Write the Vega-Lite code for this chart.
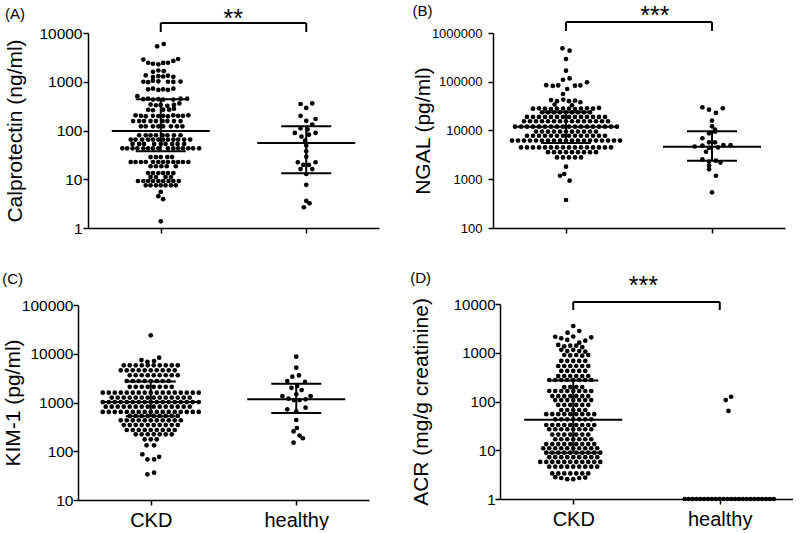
{
"$schema": "https://vega.github.io/schema/vega-lite/v6.json",
"background": "white",
"padding": {"left": 2, "top": 4, "right": 0, "bottom": 0},
"config": {
  "view": {"stroke": null},
  "font": "Liberation Sans",
  "axis": {"domainColor": "black", "tickColor": "black", "labelColor": "black", "titleColor": "black", "domainWidth": 1.5, "tickWidth": 1.5, "grid": false, "labelFont": "Liberation Sans", "titleFont": "Liberation Sans", "titleFontWeight": "normal", "titleFontSize": 21},
  "title": {"font": "Liberation Sans", "fontWeight": "normal", "fontSize": 15, "color": "black", "anchor": "start", "frame": "bounds"}
},
"datasets": {
"S": [
 {"p": "A", "g": "CKD", "lo": 37.5, "md": 98, "hi": 437},
 {"p": "A", "g": "healthy", "lo": 13.2, "md": 55.4, "hi": 122},
 {"p": "B", "g": "CKD", "lo": 5540, "md": 12000, "hi": 23600},
 {"p": "B", "g": "healthy", "lo": 2410, "md": 4650, "hi": 9600},
 {"p": "C", "g": "CKD", "lo": 520, "md": 1020, "hi": 2700},
 {"p": "C", "g": "healthy", "lo": 610, "md": 1170, "hi": 2430},
 {"p": "D", "g": "CKD", "lo": 8.9, "md": 42, "hi": 270}
],
"K": [
 {"p": "A", "g": "CKD", "g2": "healthy", "top": 16000, "bot": 10500, "sv": 12970, "sc": 12.1, "star": "**"},
 {"p": "B", "g": "CKD", "g2": "healthy", "top": 1680000, "bot": 1100000, "sv": 1500000, "sc": 14.8, "star": "***"},
 {"p": "D", "g": "CKD", "g2": "healthy", "top": 11000, "bot": 7540, "sv": 16000, "sc": 11.7, "star": "***"}
],
"A": [
 {"g":"CKD","v":5340,"c":-0.6},{"g":"CKD","v":5950,"c":0.5},
 {"g":"CKD","v":2850,"c":-2.9},{"g":"CKD","v":2450,"c":-2.1},{"g":"CKD","v":2340,"c":-1.3},{"g":"CKD","v":2280,"c":-0.4},{"g":"CKD","v":2430,"c":0.4},{"g":"CKD","v":2450,"c":1.2},{"g":"CKD","v":2670,"c":2.1},{"g":"CKD","v":2930,"c":2.9},
 {"g":"CKD","v":1600,"c":-1.3},{"g":"CKD","v":1700,"c":-0.4},{"g":"CKD","v":1650,"c":0.5},
 {"g":"CKD","v":1350,"c":-2.5},{"g":"CKD","v":1250,"c":-1.3},{"g":"CKD","v":1300,"c":-0.4},{"g":"CKD","v":1280,"c":0.4},{"g":"CKD","v":1330,"c":1.2},{"g":"CKD","v":1260,"c":2.1},
 {"g":"CKD","v":1000,"c":-2.9},{"g":"CKD","v":980,"c":-2.1},{"g":"CKD","v":1050,"c":-1.3},{"g":"CKD","v":1020,"c":-0.4},{"g":"CKD","v":1000,"c":1.2},{"g":"CKD","v":990,"c":2.1},{"g":"CKD","v":1010,"c":3.3},
 {"g":"CKD","v":700,"c":-2.1},{"g":"CKD","v":720,"c":-1.3},{"g":"CKD","v":680,"c":-0.4},{"g":"CKD","v":700,"c":0.4},{"g":"CKD","v":680,"c":1.2},{"g":"CKD","v":720,"c":2.1},
 {"g":"CKD","v":505,"c":-3.9},{"g":"CKD","v":440,"c":-2.9},{"g":"CKD","v":450,"c":-2.1},{"g":"CKD","v":430,"c":-1.3},{"g":"CKD","v":440,"c":-0.4},{"g":"CKD","v":430,"c":0.4},{"g":"CKD","v":430,"c":2.1},{"g":"CKD","v":450,"c":3.3},{"g":"CKD","v":450,"c":4.4},
 {"g":"CKD","v":340,"c":-1.7},{"g":"CKD","v":330,"c":-0.8},{"g":"CKD","v":335,"c":0},{"g":"CKD","v":320,"c":1.1},{"g":"CKD","v":335,"c":2.2},{"g":"CKD","v":360,"c":3.1},
 {"g":"CKD","v":265,"c":-2.1},{"g":"CKD","v":260,"c":-1.3},{"g":"CKD","v":268,"c":0.4},{"g":"CKD","v":268,"c":1.4},{"g":"CKD","v":280,"c":2.2},
 {"g":"CKD","v":205,"c":-4.2},{"g":"CKD","v":200,"c":-3.3},{"g":"CKD","v":195,"c":-2.5},{"g":"CKD","v":200,"c":-1.3},{"g":"CKD","v":198,"c":-0.4},{"g":"CKD","v":200,"c":0.4},{"g":"CKD","v":195,"c":1.2},{"g":"CKD","v":205,"c":2.1},{"g":"CKD","v":200,"c":2.9},{"g":"CKD","v":200,"c":3.7},{"g":"CKD","v":205,"c":4.6},
 {"g":"CKD","v":156,"c":-4.6},{"g":"CKD","v":156,"c":-3.6},{"g":"CKD","v":156,"c":-2.8},{"g":"CKD","v":156,"c":-1.7},{"g":"CKD","v":156,"c":-0.8},{"g":"CKD","v":156,"c":0.3},{"g":"CKD","v":156,"c":1.1},{"g":"CKD","v":156,"c":2.2},{"g":"CKD","v":156,"c":3.3},
 {"g":"CKD","v":122,"c":-3.3},{"g":"CKD","v":122,"c":-2.5},{"g":"CKD","v":122,"c":-1.3},{"g":"CKD","v":122,"c":-0.4},{"g":"CKD","v":122,"c":0.4},{"g":"CKD","v":122,"c":1.7},{"g":"CKD","v":122,"c":2.7},{"g":"CKD","v":122,"c":3.6},
 {"g":"CKD","v":80,"c":-3.6},{"g":"CKD","v":80,"c":-2.5},{"g":"CKD","v":80,"c":-1.7},{"g":"CKD","v":80,"c":-0.8},{"g":"CKD","v":80,"c":0.3},{"g":"CKD","v":80,"c":1.1},{"g":"CKD","v":80,"c":2.2},{"g":"CKD","v":80,"c":3.3},
 {"g":"CKD","v":65,"c":-5},{"g":"CKD","v":65,"c":-4.2},{"g":"CKD","v":65,"c":-3.1},{"g":"CKD","v":65,"c":-2.1},{"g":"CKD","v":65,"c":-1.3},{"g":"CKD","v":65,"c":-0.4},{"g":"CKD","v":65,"c":0.4},{"g":"CKD","v":65,"c":1.2},{"g":"CKD","v":65,"c":2.1},{"g":"CKD","v":65,"c":2.9},{"g":"CKD","v":65,"c":3.9},{"g":"CKD","v":65,"c":4.9},
 {"g":"CKD","v":53,"c":-4.7},{"g":"CKD","v":53,"c":-3.6},{"g":"CKD","v":53,"c":-2.8},{"g":"CKD","v":53,"c":-1.1},{"g":"CKD","v":53,"c":0},{"g":"CKD","v":53,"c":0.8},{"g":"CKD","v":53,"c":1.9},{"g":"CKD","v":53,"c":2.8},{"g":"CKD","v":53,"c":3.9},
 {"g":"CKD","v":43,"c":-6.4},{"g":"CKD","v":43,"c":-5.6},{"g":"CKD","v":43,"c":-4.7},{"g":"CKD","v":43,"c":-3.9},{"g":"CKD","v":43,"c":-2.9},{"g":"CKD","v":43,"c":-2.1},{"g":"CKD","v":43,"c":-1.3},{"g":"CKD","v":43,"c":-0.4},{"g":"CKD","v":43,"c":1.2},{"g":"CKD","v":43,"c":2.1},{"g":"CKD","v":43,"c":2.9},{"g":"CKD","v":43,"c":3.7},{"g":"CKD","v":43,"c":4.6},{"g":"CKD","v":43,"c":5.4},{"g":"CKD","v":43,"c":6.4},
 {"g":"CKD","v":28.5,"c":-1.7},{"g":"CKD","v":28.5,"c":-0.8},{"g":"CKD","v":28.5,"c":0},{"g":"CKD","v":28.5,"c":1.1},{"g":"CKD","v":28.5,"c":1.9},
 {"g":"CKD","v":22.6,"c":-5},{"g":"CKD","v":22.6,"c":-4.2},{"g":"CKD","v":22.6,"c":-3.3},{"g":"CKD","v":22.6,"c":-2.5},{"g":"CKD","v":22.6,"c":-1.3},{"g":"CKD","v":22.6,"c":-0.4},{"g":"CKD","v":22.6,"c":0.4},{"g":"CKD","v":22.6,"c":1.2},{"g":"CKD","v":22.6,"c":2.1},{"g":"CKD","v":22.6,"c":2.9},{"g":"CKD","v":22.6,"c":3.7},{"g":"CKD","v":22.6,"c":4.6},
 {"g":"CKD","v":18.5,"c":-1.7},{"g":"CKD","v":18.5,"c":-0.8},{"g":"CKD","v":18.5,"c":0.1},{"g":"CKD","v":18.5,"c":1.0},{"g":"CKD","v":18.5,"c":2.5},
 {"g":"CKD","v":13.4,"c":-2.1},{"g":"CKD","v":13.4,"c":-1.3},{"g":"CKD","v":13.4,"c":-0.4},{"g":"CKD","v":13.4,"c":0.4},{"g":"CKD","v":13.4,"c":1.2},{"g":"CKD","v":13.4,"c":2.1},
 {"g":"CKD","v":11.1,"c":-1.7},{"g":"CKD","v":11.1,"c":-0.8},{"g":"CKD","v":11.1,"c":0.8},{"g":"CKD","v":11.1,"c":1.7},
 {"g":"CKD","v":9.2,"c":-3.8},{"g":"CKD","v":9.2,"c":-2.9},{"g":"CKD","v":9.2,"c":-2.1},{"g":"CKD","v":9.2,"c":-1.3},{"g":"CKD","v":9.2,"c":-0.4},{"g":"CKD","v":9.2,"c":0.4},{"g":"CKD","v":9.2,"c":1.3},{"g":"CKD","v":9.2,"c":2.1},{"g":"CKD","v":9.2,"c":3.0},
 {"g":"CKD","v":7.5,"c":-2.5},{"g":"CKD","v":7.5,"c":-1.7},{"g":"CKD","v":7.5,"c":-0.8},{"g":"CKD","v":7.5,"c":0},{"g":"CKD","v":7.5,"c":0.8},{"g":"CKD","v":7.5,"c":1.7},{"g":"CKD","v":7.5,"c":2.5},
 {"g":"CKD","v":5.5,"c":0},{"g":"CKD","v":4.5,"c":-0.4},{"g":"CKD","v":3.9,"c":0.4},{"g":"CKD","v":1.37,"c":0},
 {"g":"healthy","v":350,"c":-0.95},{"g":"healthy","v":360,"c":1.0},{"g":"healthy","v":290,"c":0},{"g":"healthy","v":200,"c":-0.95},{"g":"healthy","v":158,"c":0},{"g":"healthy","v":172,"c":1.55},{"g":"healthy","v":132,"c":1.0},{"g":"healthy","v":111,"c":-0.95},{"g":"healthy","v":105,"c":0.2},{"g":"healthy","v":89,"c":-1.9},{"g":"healthy","v":89,"c":1.55},{"g":"healthy","v":82,"c":0.45},{"g":"healthy","v":75,"c":-0.8},{"g":"healthy","v":62,"c":-0.2},{"g":"healthy","v":49,"c":0},{"g":"healthy","v":37.5,"c":0},{"g":"healthy","v":29,"c":0},{"g":"healthy","v":22.3,"c":-1.4},{"g":"healthy","v":22.3,"c":1.55},{"g":"healthy","v":19.7,"c":-0.5},{"g":"healthy","v":19.7,"c":0.45},{"g":"healthy","v":16.2,"c":-0.95},{"g":"healthy","v":16.2,"c":1.0},{"g":"healthy","v":12.8,"c":0},{"g":"healthy","v":7.7,"c":0},{"g":"healthy","v":3.6,"c":0},{"g":"healthy","v":3.2,"c":0.55},{"g":"healthy","v":2.66,"c":-0.4}
],
"B": [
 {"g":"CKD","v":485000,"c":-0.6},{"g":"CKD","v":434000,"c":0.6},{"g":"CKD","v":293000,"c":0},{"g":"CKD","v":169000,"c":0},{"g":"CKD","v":110000,"c":-0.5},{"g":"CKD","v":117000,"c":0.6},
 {"g":"CKD","v":85000,"c":-3.3},{"g":"CKD","v":82000,"c":-2.2},{"g":"CKD","v":84000,"c":-1.3},{"g":"CKD","v":83000,"c":1.5},{"g":"CKD","v":84000,"c":2.4},{"g":"CKD","v":97600,"c":3.5},
 {"g":"CKD","v":71000,"c":0.2},{"g":"CKD","v":56000,"c":-0.5},
 {"g":"CKD","v":42000,"c":-2.5},{"g":"CKD","v":40000,"c":-1.5},{"g":"CKD","v":43000,"c":-0.45},{"g":"CKD","v":40000,"c":0.5},{"g":"CKD","v":41000,"c":1.5},{"g":"CKD","v":38000,"c":2.4},
 {"g":"CKD","v":34000,"c":-1.9},{"g":"CKD","v":33000,"c":1.0},
 {"g":"CKD","v":28000,"c":-5.5},{"g":"CKD","v":28500,"c":-4.5},{"g":"CKD","v":28000,"c":-3.5},{"g":"CKD","v":27500,"c":-2.5},{"g":"CKD","v":28000,"c":-1.5},{"g":"CKD","v":28000,"c":-0.5},{"g":"CKD","v":28000,"c":0.5},{"g":"CKD","v":27500,"c":1.5},{"g":"CKD","v":28000,"c":2.5},{"g":"CKD","v":28500,"c":3.5},{"g":"CKD","v":28000,"c":4.5},{"g":"CKD","v":29000,"c":5.5},
 {"g":"CKD","v":23600,"c":-4},{"g":"CKD","v":23600,"c":-3},{"g":"CKD","v":23600,"c":-2},{"g":"CKD","v":23600,"c":-1},{"g":"CKD","v":23600,"c":0},{"g":"CKD","v":23600,"c":1},{"g":"CKD","v":23600,"c":2},{"g":"CKD","v":23600,"c":3},{"g":"CKD","v":23600,"c":4},
 {"g":"CKD","v":19000,"c":-6.5},{"g":"CKD","v":19000,"c":-5.5},{"g":"CKD","v":19000,"c":-4.5},{"g":"CKD","v":19000,"c":-3.5},{"g":"CKD","v":19000,"c":-2.5},{"g":"CKD","v":19000,"c":-1.5},{"g":"CKD","v":19000,"c":-0.5},{"g":"CKD","v":19000,"c":0.5},{"g":"CKD","v":19000,"c":1.5},{"g":"CKD","v":19000,"c":2.5},{"g":"CKD","v":19000,"c":3.5},{"g":"CKD","v":19000,"c":4.5},{"g":"CKD","v":19000,"c":5.5},{"g":"CKD","v":19000,"c":6.5},
 {"g":"CKD","v":15500,"c":-7},{"g":"CKD","v":15500,"c":-6},{"g":"CKD","v":15500,"c":-5},{"g":"CKD","v":15500,"c":-4},{"g":"CKD","v":15500,"c":-3},{"g":"CKD","v":15500,"c":-2},{"g":"CKD","v":15500,"c":-1},{"g":"CKD","v":15500,"c":0},{"g":"CKD","v":15500,"c":1},{"g":"CKD","v":15500,"c":2},{"g":"CKD","v":15500,"c":3},{"g":"CKD","v":15500,"c":4},{"g":"CKD","v":15500,"c":5},{"g":"CKD","v":15500,"c":6},{"g":"CKD","v":15500,"c":7},
 {"g":"CKD","v":12000,"c":-8.5},{"g":"CKD","v":12000,"c":-7.5},{"g":"CKD","v":12000,"c":-6.5},{"g":"CKD","v":12000,"c":-5.5},{"g":"CKD","v":12000,"c":-4.5},{"g":"CKD","v":12000,"c":-3.5},{"g":"CKD","v":12000,"c":-2.5},{"g":"CKD","v":12000,"c":-1.5},{"g":"CKD","v":12000,"c":-0.5},{"g":"CKD","v":12000,"c":0.5},{"g":"CKD","v":12000,"c":1.5},{"g":"CKD","v":12000,"c":2.5},{"g":"CKD","v":12000,"c":3.5},{"g":"CKD","v":12000,"c":4.5},{"g":"CKD","v":12000,"c":5.5},{"g":"CKD","v":12000,"c":6.5},{"g":"CKD","v":12000,"c":7.5},{"g":"CKD","v":12000,"c":8.5},
 {"g":"CKD","v":9500,"c":-5},{"g":"CKD","v":9500,"c":-4},{"g":"CKD","v":9500,"c":-3},{"g":"CKD","v":9500,"c":-2},{"g":"CKD","v":9500,"c":-1},{"g":"CKD","v":9500,"c":0},{"g":"CKD","v":9500,"c":1},{"g":"CKD","v":9500,"c":2},{"g":"CKD","v":9500,"c":3},{"g":"CKD","v":9500,"c":4},{"g":"CKD","v":9500,"c":5},
 {"g":"CKD","v":7800,"c":-6.5},{"g":"CKD","v":7800,"c":-5.5},{"g":"CKD","v":7800,"c":-4.5},{"g":"CKD","v":7800,"c":-3.5},{"g":"CKD","v":7800,"c":-2.5},{"g":"CKD","v":7800,"c":-1.5},{"g":"CKD","v":7800,"c":-0.5},{"g":"CKD","v":7800,"c":0.5},{"g":"CKD","v":7800,"c":1.5},{"g":"CKD","v":7800,"c":2.5},{"g":"CKD","v":7800,"c":3.5},{"g":"CKD","v":7800,"c":4.5},{"g":"CKD","v":7800,"c":5.5},{"g":"CKD","v":7800,"c":6.5},
 {"g":"CKD","v":6200,"c":-9},{"g":"CKD","v":6200,"c":-8},{"g":"CKD","v":6200,"c":-7},{"g":"CKD","v":6200,"c":-6},{"g":"CKD","v":6200,"c":-5},{"g":"CKD","v":6200,"c":-4},{"g":"CKD","v":6200,"c":-3},{"g":"CKD","v":6200,"c":-2},{"g":"CKD","v":6200,"c":-1},{"g":"CKD","v":6200,"c":0},{"g":"CKD","v":6200,"c":1},{"g":"CKD","v":6200,"c":2},{"g":"CKD","v":6200,"c":3},{"g":"CKD","v":6200,"c":4},{"g":"CKD","v":6200,"c":5},{"g":"CKD","v":6200,"c":6},{"g":"CKD","v":6200,"c":7},{"g":"CKD","v":6200,"c":8},{"g":"CKD","v":6200,"c":9},
 {"g":"CKD","v":4500,"c":-7.5},{"g":"CKD","v":4500,"c":-6.5},{"g":"CKD","v":4500,"c":-5.5},{"g":"CKD","v":4500,"c":-4.5},{"g":"CKD","v":4500,"c":-3.5},{"g":"CKD","v":4500,"c":-2.5},{"g":"CKD","v":4500,"c":-1.5},{"g":"CKD","v":4500,"c":-0.5},{"g":"CKD","v":4500,"c":0.5},{"g":"CKD","v":4500,"c":1.5},{"g":"CKD","v":4500,"c":2.5},{"g":"CKD","v":4500,"c":3.5},{"g":"CKD","v":4500,"c":4.5},{"g":"CKD","v":4500,"c":5.5},{"g":"CKD","v":4500,"c":6.5},{"g":"CKD","v":4500,"c":7.5},
 {"g":"CKD","v":3600,"c":-3},{"g":"CKD","v":3600,"c":-2},{"g":"CKD","v":3600,"c":-1},{"g":"CKD","v":3600,"c":0},{"g":"CKD","v":3600,"c":1},{"g":"CKD","v":3600,"c":2},{"g":"CKD","v":3600,"c":3},{"g":"CKD","v":3600,"c":4},{"g":"CKD","v":3600,"c":5},
 {"g":"CKD","v":2800,"c":-1.5},{"g":"CKD","v":2800,"c":-0.5},{"g":"CKD","v":2800,"c":0.5},{"g":"CKD","v":2800,"c":1.5},{"g":"CKD","v":2800,"c":2.5},
 {"g":"CKD","v":1810,"c":0},{"g":"CKD","v":1280,"c":-0.3},{"g":"CKD","v":1180,"c":-1.0},{"g":"CKD","v":935,"c":0.6},{"g":"CKD","v":375,"c":0},
 {"g":"healthy","v":29900,"c":-1.6},{"g":"healthy","v":26700,"c":-0.5},{"g":"healthy","v":22900,"c":0.65},{"g":"healthy","v":28500,"c":1.8},{"g":"healthy","v":15900,"c":0},{"g":"healthy","v":12200,"c":0},{"g":"healthy","v":10400,"c":0.5},{"g":"healthy","v":8740,"c":-0.5},{"g":"healthy","v":9440,"c":0.5},{"g":"healthy","v":6930,"c":-1.6},{"g":"healthy","v":5730,"c":-0.5},{"g":"healthy","v":5730,"c":0.5},
 {"g":"healthy","v":4700,"c":-2.9},{"g":"healthy","v":4900,"c":-1.6},{"g":"healthy","v":4400,"c":-0.5},{"g":"healthy","v":4500,"c":1.0},{"g":"healthy","v":5000,"c":1.9},{"g":"healthy","v":5000,"c":3.1},
 {"g":"healthy","v":3670,"c":-1.0},{"g":"healthy","v":2550,"c":-1.6},{"g":"healthy","v":2300,"c":-0.5},{"g":"healthy","v":2400,"c":0.65},{"g":"healthy","v":2200,"c":1.4},{"g":"healthy","v":1900,"c":-0.5},{"g":"healthy","v":1600,"c":-0.5},{"g":"healthy","v":1180,"c":0.65},{"g":"healthy","v":540,"c":0}
],
"C": [
 {"g":"CKD","v":23900,"c":0},
 {"g":"CKD","v":7400,"c":-1.55},{"g":"CKD","v":6800,"c":-0.55},{"g":"CKD","v":7100,"c":0.55},{"g":"CKD","v":8300,"c":1.4},
 {"g":"CKD","v":5800,"c":-4.5},{"g":"CKD","v":5800,"c":-3.5},{"g":"CKD","v":5800,"c":-2.5},{"g":"CKD","v":5800,"c":-1.5},{"g":"CKD","v":5800,"c":-0.5},{"g":"CKD","v":5800,"c":0.5},{"g":"CKD","v":5800,"c":1.5},{"g":"CKD","v":5800,"c":2.5},{"g":"CKD","v":5800,"c":3.5},{"g":"CKD","v":5800,"c":4.5},
 {"g":"CKD","v":4580,"c":-5},{"g":"CKD","v":4580,"c":-4},{"g":"CKD","v":4580,"c":-3},{"g":"CKD","v":4580,"c":-2},{"g":"CKD","v":4580,"c":-1},{"g":"CKD","v":4580,"c":0},{"g":"CKD","v":4580,"c":1},{"g":"CKD","v":4580,"c":2},{"g":"CKD","v":4580,"c":3},{"g":"CKD","v":4580,"c":4},
 {"g":"CKD","v":3620,"c":-3.5},{"g":"CKD","v":3620,"c":-2.5},{"g":"CKD","v":3620,"c":-1.5},{"g":"CKD","v":3620,"c":-0.5},{"g":"CKD","v":3620,"c":0.5},{"g":"CKD","v":3620,"c":1.5},{"g":"CKD","v":3620,"c":2.5},{"g":"CKD","v":3620,"c":3.5},{"g":"CKD","v":3620,"c":4.5},
 {"g":"CKD","v":2760,"c":-4},{"g":"CKD","v":2760,"c":-3},{"g":"CKD","v":2760,"c":-2},{"g":"CKD","v":2760,"c":-1},{"g":"CKD","v":2760,"c":0},{"g":"CKD","v":2760,"c":1},{"g":"CKD","v":2760,"c":2},{"g":"CKD","v":2760,"c":3},
 {"g":"CKD","v":2100,"c":-3.5},{"g":"CKD","v":2100,"c":-2.5},{"g":"CKD","v":2100,"c":-1.5},{"g":"CKD","v":2100,"c":-0.5},{"g":"CKD","v":2100,"c":0.5},{"g":"CKD","v":2100,"c":1.5},{"g":"CKD","v":2100,"c":2.5},{"g":"CKD","v":2100,"c":3.5},
 {"g":"CKD","v":1590,"c":-8},{"g":"CKD","v":1590,"c":-7},{"g":"CKD","v":1590,"c":-6},{"g":"CKD","v":1590,"c":-5},{"g":"CKD","v":1590,"c":-4},{"g":"CKD","v":1590,"c":-3},{"g":"CKD","v":1590,"c":-2},{"g":"CKD","v":1590,"c":-1},{"g":"CKD","v":1590,"c":0},{"g":"CKD","v":1590,"c":1},{"g":"CKD","v":1590,"c":2},{"g":"CKD","v":1590,"c":3},{"g":"CKD","v":1590,"c":4},{"g":"CKD","v":1590,"c":5},{"g":"CKD","v":1590,"c":6},{"g":"CKD","v":1590,"c":7},{"g":"CKD","v":1590,"c":8},
 {"g":"CKD","v":1260,"c":-6.5},{"g":"CKD","v":1260,"c":-5.5},{"g":"CKD","v":1260,"c":-4.5},{"g":"CKD","v":1260,"c":-3.5},{"g":"CKD","v":1260,"c":-2.5},{"g":"CKD","v":1260,"c":-1.5},{"g":"CKD","v":1260,"c":-0.5},{"g":"CKD","v":1260,"c":0.5},{"g":"CKD","v":1260,"c":1.5},{"g":"CKD","v":1260,"c":2.5},{"g":"CKD","v":1260,"c":3.5},{"g":"CKD","v":1260,"c":4.5},{"g":"CKD","v":1260,"c":5.5},{"g":"CKD","v":1260,"c":6.5},
 {"g":"CKD","v":1020,"c":-8},{"g":"CKD","v":1020,"c":-7},{"g":"CKD","v":1020,"c":-6},{"g":"CKD","v":1020,"c":-5},{"g":"CKD","v":1020,"c":-4},{"g":"CKD","v":1020,"c":-3},{"g":"CKD","v":1020,"c":-2},{"g":"CKD","v":1020,"c":-1},{"g":"CKD","v":1020,"c":0},{"g":"CKD","v":1020,"c":1},{"g":"CKD","v":1020,"c":2},{"g":"CKD","v":1020,"c":3},{"g":"CKD","v":1020,"c":4},{"g":"CKD","v":1020,"c":5},{"g":"CKD","v":1020,"c":6},{"g":"CKD","v":1020,"c":7},{"g":"CKD","v":1020,"c":8},
 {"g":"CKD","v":820,"c":-7.5},{"g":"CKD","v":820,"c":-6.5},{"g":"CKD","v":820,"c":-5.5},{"g":"CKD","v":820,"c":-4.5},{"g":"CKD","v":820,"c":-3.5},{"g":"CKD","v":820,"c":-2.5},{"g":"CKD","v":820,"c":-1.5},{"g":"CKD","v":820,"c":-0.5},{"g":"CKD","v":820,"c":0.5},{"g":"CKD","v":820,"c":1.5},{"g":"CKD","v":820,"c":2.5},{"g":"CKD","v":820,"c":3.5},{"g":"CKD","v":820,"c":4.5},{"g":"CKD","v":820,"c":5.5},{"g":"CKD","v":820,"c":6.5},
 {"g":"CKD","v":640,"c":-8},{"g":"CKD","v":640,"c":-7},{"g":"CKD","v":640,"c":-6},{"g":"CKD","v":640,"c":-5},{"g":"CKD","v":640,"c":-4},{"g":"CKD","v":640,"c":-3},{"g":"CKD","v":640,"c":-2},{"g":"CKD","v":640,"c":-1},{"g":"CKD","v":640,"c":0},{"g":"CKD","v":640,"c":1},{"g":"CKD","v":640,"c":2},{"g":"CKD","v":640,"c":3},{"g":"CKD","v":640,"c":4},{"g":"CKD","v":640,"c":5},{"g":"CKD","v":640,"c":6},{"g":"CKD","v":640,"c":7},{"g":"CKD","v":640,"c":8},
 {"g":"CKD","v":530,"c":-3.5},{"g":"CKD","v":530,"c":-2.5},{"g":"CKD","v":530,"c":-1.5},{"g":"CKD","v":530,"c":-0.5},{"g":"CKD","v":530,"c":0.5},{"g":"CKD","v":530,"c":1.5},{"g":"CKD","v":530,"c":2.5},{"g":"CKD","v":530,"c":3.5},{"g":"CKD","v":530,"c":4.5},
 {"g":"CKD","v":430,"c":-5},{"g":"CKD","v":430,"c":-4},{"g":"CKD","v":430,"c":-3},{"g":"CKD","v":430,"c":-2},{"g":"CKD","v":430,"c":-1},{"g":"CKD","v":430,"c":0},{"g":"CKD","v":430,"c":1},{"g":"CKD","v":430,"c":2},{"g":"CKD","v":430,"c":3},{"g":"CKD","v":430,"c":4},{"g":"CKD","v":430,"c":5},
 {"g":"CKD","v":345,"c":-4.5},{"g":"CKD","v":345,"c":-3.5},{"g":"CKD","v":345,"c":-2.5},{"g":"CKD","v":345,"c":-1.5},{"g":"CKD","v":345,"c":-0.5},{"g":"CKD","v":345,"c":0.5},{"g":"CKD","v":345,"c":1.5},{"g":"CKD","v":345,"c":2.5},{"g":"CKD","v":345,"c":3.5},{"g":"CKD","v":345,"c":4.5},
 {"g":"CKD","v":273,"c":-4},{"g":"CKD","v":273,"c":-3},{"g":"CKD","v":273,"c":-2},{"g":"CKD","v":273,"c":-1},{"g":"CKD","v":273,"c":0},{"g":"CKD","v":273,"c":1},{"g":"CKD","v":273,"c":2},{"g":"CKD","v":273,"c":3},{"g":"CKD","v":273,"c":4},
 {"g":"CKD","v":222,"c":-2.5},{"g":"CKD","v":222,"c":-1.5},{"g":"CKD","v":222,"c":-0.5},{"g":"CKD","v":222,"c":0.5},{"g":"CKD","v":222,"c":1.5},{"g":"CKD","v":222,"c":2.5},{"g":"CKD","v":222,"c":3.5},
 {"g":"CKD","v":176,"c":-1},{"g":"CKD","v":176,"c":0},{"g":"CKD","v":176,"c":1},
 {"g":"CKD","v":132,"c":-0.7},{"g":"CKD","v":132,"c":0.55},
 {"g":"CKD","v":86.5,"c":-1.4},{"g":"CKD","v":77,"c":1.4},{"g":"CKD","v":68,"c":-0.55},{"g":"CKD","v":68,"c":0.55},
 {"g":"CKD","v":33.6,"c":-0.55},{"g":"CKD","v":36.3,"c":0.55},
 {"g":"healthy","v":8700,"c":0},{"g":"healthy","v":5170,"c":0},{"g":"healthy","v":3380,"c":-0.65},{"g":"healthy","v":3590,"c":0.45},{"g":"healthy","v":2760,"c":-1.5},{"g":"healthy","v":2640,"c":1.45},{"g":"healthy","v":2000,"c":-0.8},{"g":"healthy","v":2180,"c":0.15},{"g":"healthy","v":1800,"c":0.9},
 {"g":"healthy","v":1350,"c":-2.3},{"g":"healthy","v":1470,"c":0},{"g":"healthy","v":1350,"c":2.4},{"g":"healthy","v":1200,"c":-1.3},{"g":"healthy","v":1120,"c":-0.4},{"g":"healthy","v":1120,"c":0.55},{"g":"healthy","v":1160,"c":1.55},
 {"g":"healthy","v":724,"c":-1.5},{"g":"healthy","v":650,"c":0},{"g":"healthy","v":782,"c":1.55},{"g":"healthy","v":437,"c":0},{"g":"healthy","v":300,"c":0.1},{"g":"healthy","v":255,"c":-0.45},{"g":"healthy","v":210,"c":0.55},{"g":"healthy","v":185,"c":1.1},{"g":"healthy","v":150,"c":-0.45}
],
"D": [
 {"g":"CKD","v":3540,"c":0},{"g":"CKD","v":2580,"c":-0.95},{"g":"CKD","v":2790,"c":1.0},
 {"g":"CKD","v":2130,"c":-3},{"g":"CKD","v":1980,"c":-2},{"g":"CKD","v":1830,"c":-1},{"g":"CKD","v":2150,"c":0},{"g":"CKD","v":1610,"c":1},{"g":"CKD","v":1770,"c":2},{"g":"CKD","v":2070,"c":3},
 {"g":"CKD","v":1450,"c":-2.5},{"g":"CKD","v":1350,"c":-1.5},{"g":"CKD","v":1400,"c":-0.5},{"g":"CKD","v":1400,"c":0.5},{"g":"CKD","v":1300,"c":1.5},
 {"g":"CKD","v":1150,"c":-2},{"g":"CKD","v":1080,"c":-1},{"g":"CKD","v":1150,"c":0},{"g":"CKD","v":1080,"c":1},{"g":"CKD","v":1050,"c":2},
 {"g":"CKD","v":900,"c":-1.5},{"g":"CKD","v":880,"c":-0.5},{"g":"CKD","v":900,"c":0.5},{"g":"CKD","v":870,"c":1.5},{"g":"CKD","v":900,"c":2.5},
 {"g":"CKD","v":680,"c":-2},{"g":"CKD","v":680,"c":-1},{"g":"CKD","v":680,"c":0},{"g":"CKD","v":680,"c":1},{"g":"CKD","v":680,"c":2},
 {"g":"CKD","v":535,"c":-2.5},{"g":"CKD","v":535,"c":-1.5},{"g":"CKD","v":535,"c":-0.5},{"g":"CKD","v":535,"c":0.5},{"g":"CKD","v":535,"c":1.5},{"g":"CKD","v":535,"c":2.5},
 {"g":"CKD","v":423,"c":-2},{"g":"CKD","v":423,"c":-1},{"g":"CKD","v":423,"c":0},{"g":"CKD","v":423,"c":1},{"g":"CKD","v":423,"c":2},
 {"g":"CKD","v":333,"c":-2.5},{"g":"CKD","v":333,"c":-1.5},{"g":"CKD","v":333,"c":-0.5},{"g":"CKD","v":333,"c":0.5},{"g":"CKD","v":333,"c":1.5},{"g":"CKD","v":333,"c":2.5},
 {"g":"CKD","v":276,"c":-4},{"g":"CKD","v":276,"c":-3},{"g":"CKD","v":276,"c":-2},{"g":"CKD","v":276,"c":-1},{"g":"CKD","v":276,"c":0},{"g":"CKD","v":276,"c":1},{"g":"CKD","v":276,"c":2},{"g":"CKD","v":276,"c":3},
 {"g":"CKD","v":198,"c":-1.5},{"g":"CKD","v":198,"c":-0.5},{"g":"CKD","v":198,"c":0.5},{"g":"CKD","v":198,"c":1.5},
 {"g":"CKD","v":164,"c":-4},{"g":"CKD","v":164,"c":-3},{"g":"CKD","v":164,"c":-2},{"g":"CKD","v":164,"c":-1},{"g":"CKD","v":164,"c":0},{"g":"CKD","v":164,"c":1},{"g":"CKD","v":164,"c":2},{"g":"CKD","v":164,"c":3},
 {"g":"CKD","v":129,"c":-3.5},{"g":"CKD","v":129,"c":-2.5},{"g":"CKD","v":129,"c":-1.5},{"g":"CKD","v":129,"c":-0.5},{"g":"CKD","v":129,"c":0.5},{"g":"CKD","v":129,"c":1.5},{"g":"CKD","v":129,"c":2.5},
 {"g":"CKD","v":107,"c":-3},{"g":"CKD","v":107,"c":-2},{"g":"CKD","v":107,"c":-1},{"g":"CKD","v":107,"c":0},{"g":"CKD","v":107,"c":1},{"g":"CKD","v":107,"c":2},{"g":"CKD","v":107,"c":3},
 {"g":"CKD","v":85,"c":-2.5},{"g":"CKD","v":85,"c":-1.5},{"g":"CKD","v":85,"c":-0.5},{"g":"CKD","v":85,"c":0.5},{"g":"CKD","v":85,"c":1.5},{"g":"CKD","v":85,"c":2.5},
 {"g":"CKD","v":67,"c":-2},{"g":"CKD","v":67,"c":-1},{"g":"CKD","v":67,"c":0},{"g":"CKD","v":67,"c":1},{"g":"CKD","v":67,"c":2},
 {"g":"CKD","v":55,"c":-4.5},{"g":"CKD","v":55,"c":-3.5},{"g":"CKD","v":55,"c":-2.5},{"g":"CKD","v":55,"c":-1.5},{"g":"CKD","v":55,"c":-0.5},{"g":"CKD","v":55,"c":0.5},{"g":"CKD","v":55,"c":1.5},{"g":"CKD","v":55,"c":2.5},{"g":"CKD","v":55,"c":3.5},
 {"g":"CKD","v":43,"c":-3},{"g":"CKD","v":43,"c":-2},{"g":"CKD","v":43,"c":-1},{"g":"CKD","v":43,"c":0},{"g":"CKD","v":43,"c":1},{"g":"CKD","v":43,"c":2},{"g":"CKD","v":43,"c":3},
 {"g":"CKD","v":33,"c":-4.5},{"g":"CKD","v":33,"c":-3.5},{"g":"CKD","v":33,"c":-2.5},{"g":"CKD","v":33,"c":-1.5},{"g":"CKD","v":33,"c":-0.5},{"g":"CKD","v":33,"c":0.5},{"g":"CKD","v":33,"c":1.5},{"g":"CKD","v":33,"c":2.5},{"g":"CKD","v":33,"c":3.5},
 {"g":"CKD","v":27,"c":-4},{"g":"CKD","v":27,"c":-3},{"g":"CKD","v":27,"c":-2},{"g":"CKD","v":27,"c":-1},{"g":"CKD","v":27,"c":0},{"g":"CKD","v":27,"c":1},{"g":"CKD","v":27,"c":2},{"g":"CKD","v":27,"c":3},
 {"g":"CKD","v":21,"c":-3.5},{"g":"CKD","v":21,"c":-2.5},{"g":"CKD","v":21,"c":-1.5},{"g":"CKD","v":21,"c":-0.5},{"g":"CKD","v":21,"c":0.5},{"g":"CKD","v":21,"c":1.5},{"g":"CKD","v":21,"c":2.5},
 {"g":"CKD","v":16.8,"c":-3},{"g":"CKD","v":16.8,"c":-2},{"g":"CKD","v":16.8,"c":-1},{"g":"CKD","v":16.8,"c":0},{"g":"CKD","v":16.8,"c":1},{"g":"CKD","v":16.8,"c":2},{"g":"CKD","v":16.8,"c":3},
 {"g":"CKD","v":13.4,"c":-4.5},{"g":"CKD","v":13.4,"c":-3.5},{"g":"CKD","v":13.4,"c":-2.5},{"g":"CKD","v":13.4,"c":-1.5},{"g":"CKD","v":13.4,"c":-0.5},{"g":"CKD","v":13.4,"c":0.5},{"g":"CKD","v":13.4,"c":1.5},{"g":"CKD","v":13.4,"c":2.5},{"g":"CKD","v":13.4,"c":3.5},
 {"g":"CKD","v":11,"c":-5},{"g":"CKD","v":11,"c":-4},{"g":"CKD","v":11,"c":-3},{"g":"CKD","v":11,"c":-2},{"g":"CKD","v":11,"c":-1},{"g":"CKD","v":11,"c":0},{"g":"CKD","v":11,"c":1},{"g":"CKD","v":11,"c":2},{"g":"CKD","v":11,"c":3},{"g":"CKD","v":11,"c":4},
 {"g":"CKD","v":8.9,"c":-4.5},{"g":"CKD","v":8.9,"c":-3.5},{"g":"CKD","v":8.9,"c":-2.5},{"g":"CKD","v":8.9,"c":-1.5},{"g":"CKD","v":8.9,"c":-0.5},{"g":"CKD","v":8.9,"c":0.5},{"g":"CKD","v":8.9,"c":1.5},{"g":"CKD","v":8.9,"c":2.5},{"g":"CKD","v":8.9,"c":3.5},{"g":"CKD","v":8.9,"c":4.5},
 {"g":"CKD","v":7.2,"c":-4},{"g":"CKD","v":7.2,"c":-3},{"g":"CKD","v":7.2,"c":-2},{"g":"CKD","v":7.2,"c":-1},{"g":"CKD","v":7.2,"c":0},{"g":"CKD","v":7.2,"c":1},{"g":"CKD","v":7.2,"c":2},{"g":"CKD","v":7.2,"c":3},{"g":"CKD","v":7.2,"c":4},
 {"g":"CKD","v":5.75,"c":-5.5},{"g":"CKD","v":5.75,"c":-4.5},{"g":"CKD","v":5.75,"c":-3.5},{"g":"CKD","v":5.75,"c":-2.5},{"g":"CKD","v":5.75,"c":-1.5},{"g":"CKD","v":5.75,"c":-0.5},{"g":"CKD","v":5.75,"c":0.5},{"g":"CKD","v":5.75,"c":1.5},{"g":"CKD","v":5.75,"c":2.5},{"g":"CKD","v":5.75,"c":3.5},{"g":"CKD","v":5.75,"c":4.5},
 {"g":"CKD","v":4.6,"c":-4},{"g":"CKD","v":4.6,"c":-3},{"g":"CKD","v":4.6,"c":-2},{"g":"CKD","v":4.6,"c":-1},{"g":"CKD","v":4.6,"c":0},{"g":"CKD","v":4.6,"c":1},{"g":"CKD","v":4.6,"c":2},{"g":"CKD","v":4.6,"c":3},{"g":"CKD","v":4.6,"c":4},
 {"g":"CKD","v":3.35,"c":-3.5},{"g":"CKD","v":3.35,"c":-2.5},{"g":"CKD","v":3.35,"c":-1.5},{"g":"CKD","v":3.35,"c":-0.5},{"g":"CKD","v":3.35,"c":0.5},{"g":"CKD","v":3.35,"c":1.5},{"g":"CKD","v":3.35,"c":2.5},
 {"g":"CKD","v":2.8,"c":-3},{"g":"CKD","v":2.7,"c":-2},{"g":"CKD","v":2.55,"c":-1},{"g":"CKD","v":2.55,"c":0},{"g":"CKD","v":2.7,"c":1},{"g":"CKD","v":2.75,"c":2},
 {"g":"healthy","v":107,"c":1.0},{"g":"healthy","v":125,"c":1.9},{"g":"healthy","v":64,"c":1.45},
 {"g":"healthy","v":1,"c":-5.83},{"g":"healthy","v":1,"c":-5.19},{"g":"healthy","v":1,"c":-4.54},{"g":"healthy","v":1,"c":-3.9},{"g":"healthy","v":1,"c":-3.25},{"g":"healthy","v":1,"c":-2.61},{"g":"healthy","v":1,"c":-1.96},{"g":"healthy","v":1,"c":-1.32},{"g":"healthy","v":1,"c":-0.67},{"g":"healthy","v":1,"c":-0.03},{"g":"healthy","v":1,"c":0.62},{"g":"healthy","v":1,"c":1.26},{"g":"healthy","v":1,"c":1.91},{"g":"healthy","v":1,"c":2.55},{"g":"healthy","v":1,"c":3.2},{"g":"healthy","v":1,"c":3.84},{"g":"healthy","v":1,"c":4.49},{"g":"healthy","v":1,"c":5.13},{"g":"healthy","v":1,"c":5.78},{"g":"healthy","v":1,"c":6.42},{"g":"healthy","v":1,"c":7.07},{"g":"healthy","v":1,"c":7.71},{"g":"healthy","v":1,"c":8.36},{"g":"healthy","v":1,"c":9.0}
]
},
"spacing": 31,
"hconcat": [
{"columns": 1, "align": "none", "spacing": 35, "concat": [
 {"width": 291, "height": 195, "title": {"text": "(A)", "offset": -15},
  "encoding": {"x": {"field": "g", "type": "nominal", "scale": {"type": "point", "domain": ["CKD", "healthy"], "padding": 0.5}, "axis": {"title": null, "labels": false, "tickSize": 5}}},
  "layer": [
   {"data": {"name": "A"}, "mark": {"type": "circle", "size": 22, "color": "black", "opacity": 1},
    "encoding": {"y": {"field": "v", "type": "quantitative", "title": "Calprotectin (ng/ml)", "scale": {"type": "log", "domain": [1, 10000], "nice": false}, "axis": {"values": [1, 10, 100, 1000, 10000], "format": "d", "labelFontSize": 15.5, "labelPadding": 1, "tickSize": 5, "titlePadding": 13}},
     "xOffset": {"field": "c", "type": "quantitative", "scale": {"domain": [-10, 10], "range": [-60, 60]}}}},
   {"data": {"name": "S"}, "transform": [{"filter": "datum.p === 'A'"}], "mark": {"type": "tick", "size": 98, "thickness": 2, "color": "black", "opacity": 1},
    "encoding": {"y": {"field": "md", "type": "quantitative", "title": "Calprotectin (ng/ml)", "scale": {"type": "log", "domain": [1, 10000], "nice": false}}}},
   {"data": {"name": "S"}, "transform": [{"filter": "datum.p === 'A'"}], "mark": {"type": "tick", "size": 50, "thickness": 2, "color": "black", "opacity": 1},
    "encoding": {"y": {"field": "lo", "type": "quantitative", "title": "Calprotectin (ng/ml)", "scale": {"type": "log", "domain": [1, 10000], "nice": false}}}},
   {"data": {"name": "S"}, "transform": [{"filter": "datum.p === 'A'"}], "mark": {"type": "tick", "size": 50, "thickness": 2, "color": "black", "opacity": 1},
    "encoding": {"y": {"field": "hi", "type": "quantitative", "title": "Calprotectin (ng/ml)", "scale": {"type": "log", "domain": [1, 10000], "nice": false}}}},
   {"data": {"name": "S"}, "transform": [{"filter": "datum.p === 'A'"}], "mark": {"type": "rule", "strokeWidth": 2, "color": "black"},
    "encoding": {"y": {"field": "lo", "type": "quantitative", "title": "Calprotectin (ng/ml)", "scale": {"type": "log", "domain": [1, 10000], "nice": false}}, "y2": {"field": "hi"}}},
   {"data": {"name": "K"}, "transform": [{"filter": "datum.p === 'A'"}], "mark": {"type": "rule", "strokeWidth": 2, "color": "black"},
    "encoding": {"x2": {"field": "g2"}, "y": {"field": "top", "type": "quantitative", "title": "Calprotectin (ng/ml)", "scale": {"type": "log", "domain": [1, 10000], "nice": false}}}},
   {"data": {"name": "K"}, "transform": [{"filter": "datum.p === 'A'"}], "mark": {"type": "rule", "strokeWidth": 2, "color": "black"},
    "encoding": {"y": {"field": "top", "type": "quantitative", "title": "Calprotectin (ng/ml)", "scale": {"type": "log", "domain": [1, 10000], "nice": false}}, "y2": {"field": "bot"}}},
   {"data": {"name": "K"}, "transform": [{"filter": "datum.p === 'A'"}], "mark": {"type": "rule", "strokeWidth": 2, "color": "black"},
    "encoding": {"x": {"field": "g2", "type": "nominal"}, "y": {"field": "top", "type": "quantitative", "title": "Calprotectin (ng/ml)", "scale": {"type": "log", "domain": [1, 10000], "nice": false}}, "y2": {"field": "bot"}}},
   {"data": {"name": "K"}, "transform": [{"filter": "datum.p === 'A'"}], "mark": {"type": "text", "fontSize": 25, "baseline": "alphabetic", "align": "center", "color": "black", "font": "Liberation Sans"},
    "encoding": {"y": {"field": "sv", "type": "quantitative", "title": "Calprotectin (ng/ml)", "scale": {"type": "log", "domain": [1, 10000], "nice": false}}, "xOffset": {"field": "sc", "type": "quantitative", "scale": {"domain": [-10, 10], "range": [-60, 60]}}, "text": {"field": "star"}}}
  ]},
 {"width": 281, "height": 195, "title": {"text": "(C)", "offset": 11},
  "encoding": {"x": {"field": "g", "type": "nominal", "scale": {"type": "point", "domain": ["CKD", "healthy"], "padding": 0.5, "range": [-10, 281]}, "axis": {"title": null, "labelAngle": 0, "labelFontSize": 20, "labelPadding": 5, "tickSize": 5}}},
  "layer": [
   {"data": {"name": "C"}, "mark": {"type": "circle", "size": 22, "color": "black", "opacity": 1},
    "encoding": {"y": {"field": "v", "type": "quantitative", "title": "KIM-1 (pg/ml)", "scale": {"type": "log", "domain": [10, 100000], "nice": false}, "axis": {"values": [10, 100, 1000, 10000, 100000], "format": "d", "offset": 10, "labelFontSize": 15.5, "labelPadding": 0, "tickSize": 5, "titlePadding": -2}},
     "xOffset": {"field": "c", "type": "quantitative", "scale": {"domain": [-10, 10], "range": [-60, 60]}}}},
   {"data": {"name": "S"}, "transform": [{"filter": "datum.p === 'C'"}], "mark": {"type": "tick", "size": 98, "thickness": 2, "color": "black", "opacity": 1},
    "encoding": {"y": {"field": "md", "type": "quantitative", "title": "KIM-1 (pg/ml)", "scale": {"type": "log", "domain": [10, 100000], "nice": false}}}},
   {"data": {"name": "S"}, "transform": [{"filter": "datum.p === 'C'"}], "mark": {"type": "tick", "size": 50, "thickness": 2, "color": "black", "opacity": 1},
    "encoding": {"y": {"field": "lo", "type": "quantitative", "title": "KIM-1 (pg/ml)", "scale": {"type": "log", "domain": [10, 100000], "nice": false}}}},
   {"data": {"name": "S"}, "transform": [{"filter": "datum.p === 'C'"}], "mark": {"type": "tick", "size": 50, "thickness": 2, "color": "black", "opacity": 1},
    "encoding": {"y": {"field": "hi", "type": "quantitative", "title": "KIM-1 (pg/ml)", "scale": {"type": "log", "domain": [10, 100000], "nice": false}}}},
   {"data": {"name": "S"}, "transform": [{"filter": "datum.p === 'C'"}], "mark": {"type": "rule", "strokeWidth": 2, "color": "black"},
    "encoding": {"y": {"field": "lo", "type": "quantitative", "title": "KIM-1 (pg/ml)", "scale": {"type": "log", "domain": [10, 100000], "nice": false}}, "y2": {"field": "hi"}}}
  ]}
]},
{"columns": 1, "align": "none", "spacing": 36, "concat": [
 {"width": 285, "height": 195, "title": {"text": "(B)", "offset": -15},
  "encoding": {"x": {"field": "g", "type": "nominal", "scale": {"type": "point", "domain": ["CKD", "healthy"], "padding": 0.5, "range": [-7, 285]}, "axis": {"title": null, "labels": false, "tickSize": 5}}},
  "layer": [
   {"data": {"name": "B"}, "mark": {"type": "circle", "size": 22, "color": "black", "opacity": 1},
    "encoding": {"y": {"field": "v", "type": "quantitative", "title": "NGAL (pg/ml)", "scale": {"type": "log", "domain": [100, 1000000], "nice": false}, "axis": {"values": [100, 1000, 10000, 100000, 1000000], "format": "d", "offset": 7, "labelFontSize": 13, "labelPadding": 6, "tickSize": 5, "titlePadding": -2}},
     "xOffset": {"field": "c", "type": "quantitative", "scale": {"domain": [-10, 10], "range": [-50, 50]}}}},
   {"data": {"name": "S"}, "transform": [{"filter": "datum.p === 'B'"}], "mark": {"type": "tick", "size": 98, "thickness": 2, "color": "black", "opacity": 1},
    "encoding": {"y": {"field": "md", "type": "quantitative", "title": "NGAL (pg/ml)", "scale": {"type": "log", "domain": [100, 1000000], "nice": false}}}},
   {"data": {"name": "S"}, "transform": [{"filter": "datum.p === 'B'"}], "mark": {"type": "tick", "size": 50, "thickness": 2, "color": "black", "opacity": 1},
    "encoding": {"y": {"field": "lo", "type": "quantitative", "title": "NGAL (pg/ml)", "scale": {"type": "log", "domain": [100, 1000000], "nice": false}}}},
   {"data": {"name": "S"}, "transform": [{"filter": "datum.p === 'B'"}], "mark": {"type": "tick", "size": 50, "thickness": 2, "color": "black", "opacity": 1},
    "encoding": {"y": {"field": "hi", "type": "quantitative", "title": "NGAL (pg/ml)", "scale": {"type": "log", "domain": [100, 1000000], "nice": false}}}},
   {"data": {"name": "S"}, "transform": [{"filter": "datum.p === 'B'"}], "mark": {"type": "rule", "strokeWidth": 2, "color": "black"},
    "encoding": {"y": {"field": "lo", "type": "quantitative", "title": "NGAL (pg/ml)", "scale": {"type": "log", "domain": [100, 1000000], "nice": false}}, "y2": {"field": "hi"}}},
   {"data": {"name": "K"}, "transform": [{"filter": "datum.p === 'B'"}], "mark": {"type": "rule", "strokeWidth": 2, "color": "black"},
    "encoding": {"x2": {"field": "g2"}, "y": {"field": "top", "type": "quantitative", "title": "NGAL (pg/ml)", "scale": {"type": "log", "domain": [100, 1000000], "nice": false}}}},
   {"data": {"name": "K"}, "transform": [{"filter": "datum.p === 'B'"}], "mark": {"type": "rule", "strokeWidth": 2, "color": "black"},
    "encoding": {"y": {"field": "top", "type": "quantitative", "title": "NGAL (pg/ml)", "scale": {"type": "log", "domain": [100, 1000000], "nice": false}}, "y2": {"field": "bot"}}},
   {"data": {"name": "K"}, "transform": [{"filter": "datum.p === 'B'"}], "mark": {"type": "rule", "strokeWidth": 2, "color": "black"},
    "encoding": {"x": {"field": "g2", "type": "nominal"}, "y": {"field": "top", "type": "quantitative", "title": "NGAL (pg/ml)", "scale": {"type": "log", "domain": [100, 1000000], "nice": false}}, "y2": {"field": "bot"}}},
   {"data": {"name": "K"}, "transform": [{"filter": "datum.p === 'B'"}], "mark": {"type": "text", "fontSize": 25, "baseline": "alphabetic", "align": "center", "color": "black", "font": "Liberation Sans"},
    "encoding": {"y": {"field": "sv", "type": "quantitative", "title": "NGAL (pg/ml)", "scale": {"type": "log", "domain": [100, 1000000], "nice": false}}, "xOffset": {"field": "sc", "type": "quantitative", "scale": {"domain": [-10, 10], "range": [-50, 50]}}, "text": {"field": "star"}}}
  ]},
 {"width": 293, "height": 195, "title": {"text": "(D)", "offset": -12},
  "encoding": {"x": {"field": "g", "type": "nominal", "scale": {"type": "point", "domain": ["CKD", "healthy"], "padding": 0.5}, "axis": {"title": null, "labelAngle": 0, "labelFontSize": 20, "labelPadding": 5, "tickSize": 5}}},
  "layer": [
   {"data": {"name": "D"}, "mark": {"type": "circle", "size": 22, "color": "black", "opacity": 1},
    "encoding": {"y": {"field": "v", "type": "quantitative", "title": "ACR (mg/g creatinine)", "scale": {"type": "log", "domain": [1, 10000], "nice": false}, "axis": {"values": [1, 10, 100, 1000, 10000], "format": "d", "labelFontSize": 15, "labelPadding": 0, "tickSize": 5, "titlePadding": 22}},
     "xOffset": {"field": "c", "type": "quantitative", "scale": {"domain": [-10, 10], "range": [-60, 60]}}}},
   {"data": {"name": "S"}, "transform": [{"filter": "datum.p === 'D'"}], "mark": {"type": "tick", "size": 98, "thickness": 2, "color": "black", "opacity": 1},
    "encoding": {"y": {"field": "md", "type": "quantitative", "title": "ACR (mg/g creatinine)", "scale": {"type": "log", "domain": [1, 10000], "nice": false}}}},
   {"data": {"name": "S"}, "transform": [{"filter": "datum.p === 'D'"}], "mark": {"type": "tick", "size": 50, "thickness": 2, "color": "black", "opacity": 1},
    "encoding": {"y": {"field": "lo", "type": "quantitative", "title": "ACR (mg/g creatinine)", "scale": {"type": "log", "domain": [1, 10000], "nice": false}}}},
   {"data": {"name": "S"}, "transform": [{"filter": "datum.p === 'D'"}], "mark": {"type": "tick", "size": 50, "thickness": 2, "color": "black", "opacity": 1},
    "encoding": {"y": {"field": "hi", "type": "quantitative", "title": "ACR (mg/g creatinine)", "scale": {"type": "log", "domain": [1, 10000], "nice": false}}}},
   {"data": {"name": "S"}, "transform": [{"filter": "datum.p === 'D'"}], "mark": {"type": "rule", "strokeWidth": 2, "color": "black"},
    "encoding": {"y": {"field": "lo", "type": "quantitative", "title": "ACR (mg/g creatinine)", "scale": {"type": "log", "domain": [1, 10000], "nice": false}}, "y2": {"field": "hi"}}},
   {"data": {"name": "K"}, "transform": [{"filter": "datum.p === 'D'"}], "mark": {"type": "rule", "strokeWidth": 2, "color": "black"},
    "encoding": {"x2": {"field": "g2"}, "y": {"field": "top", "type": "quantitative", "title": "ACR (mg/g creatinine)", "scale": {"type": "log", "domain": [1, 10000], "nice": false}}}},
   {"data": {"name": "K"}, "transform": [{"filter": "datum.p === 'D'"}], "mark": {"type": "rule", "strokeWidth": 2, "color": "black"},
    "encoding": {"y": {"field": "top", "type": "quantitative", "title": "ACR (mg/g creatinine)", "scale": {"type": "log", "domain": [1, 10000], "nice": false}}, "y2": {"field": "bot"}}},
   {"data": {"name": "K"}, "transform": [{"filter": "datum.p === 'D'"}], "mark": {"type": "rule", "strokeWidth": 2, "color": "black"},
    "encoding": {"x": {"field": "g2", "type": "nominal"}, "y": {"field": "top", "type": "quantitative", "title": "ACR (mg/g creatinine)", "scale": {"type": "log", "domain": [1, 10000], "nice": false}}, "y2": {"field": "bot"}}},
   {"data": {"name": "K"}, "transform": [{"filter": "datum.p === 'D'"}], "mark": {"type": "text", "fontSize": 25, "baseline": "alphabetic", "align": "center", "color": "black", "font": "Liberation Sans"},
    "encoding": {"y": {"field": "sv", "type": "quantitative", "title": "ACR (mg/g creatinine)", "scale": {"type": "log", "domain": [1, 10000], "nice": false}}, "xOffset": {"field": "sc", "type": "quantitative", "scale": {"domain": [-10, 10], "range": [-60, 60]}}, "text": {"field": "star"}}}
  ]}
]}
]
}
